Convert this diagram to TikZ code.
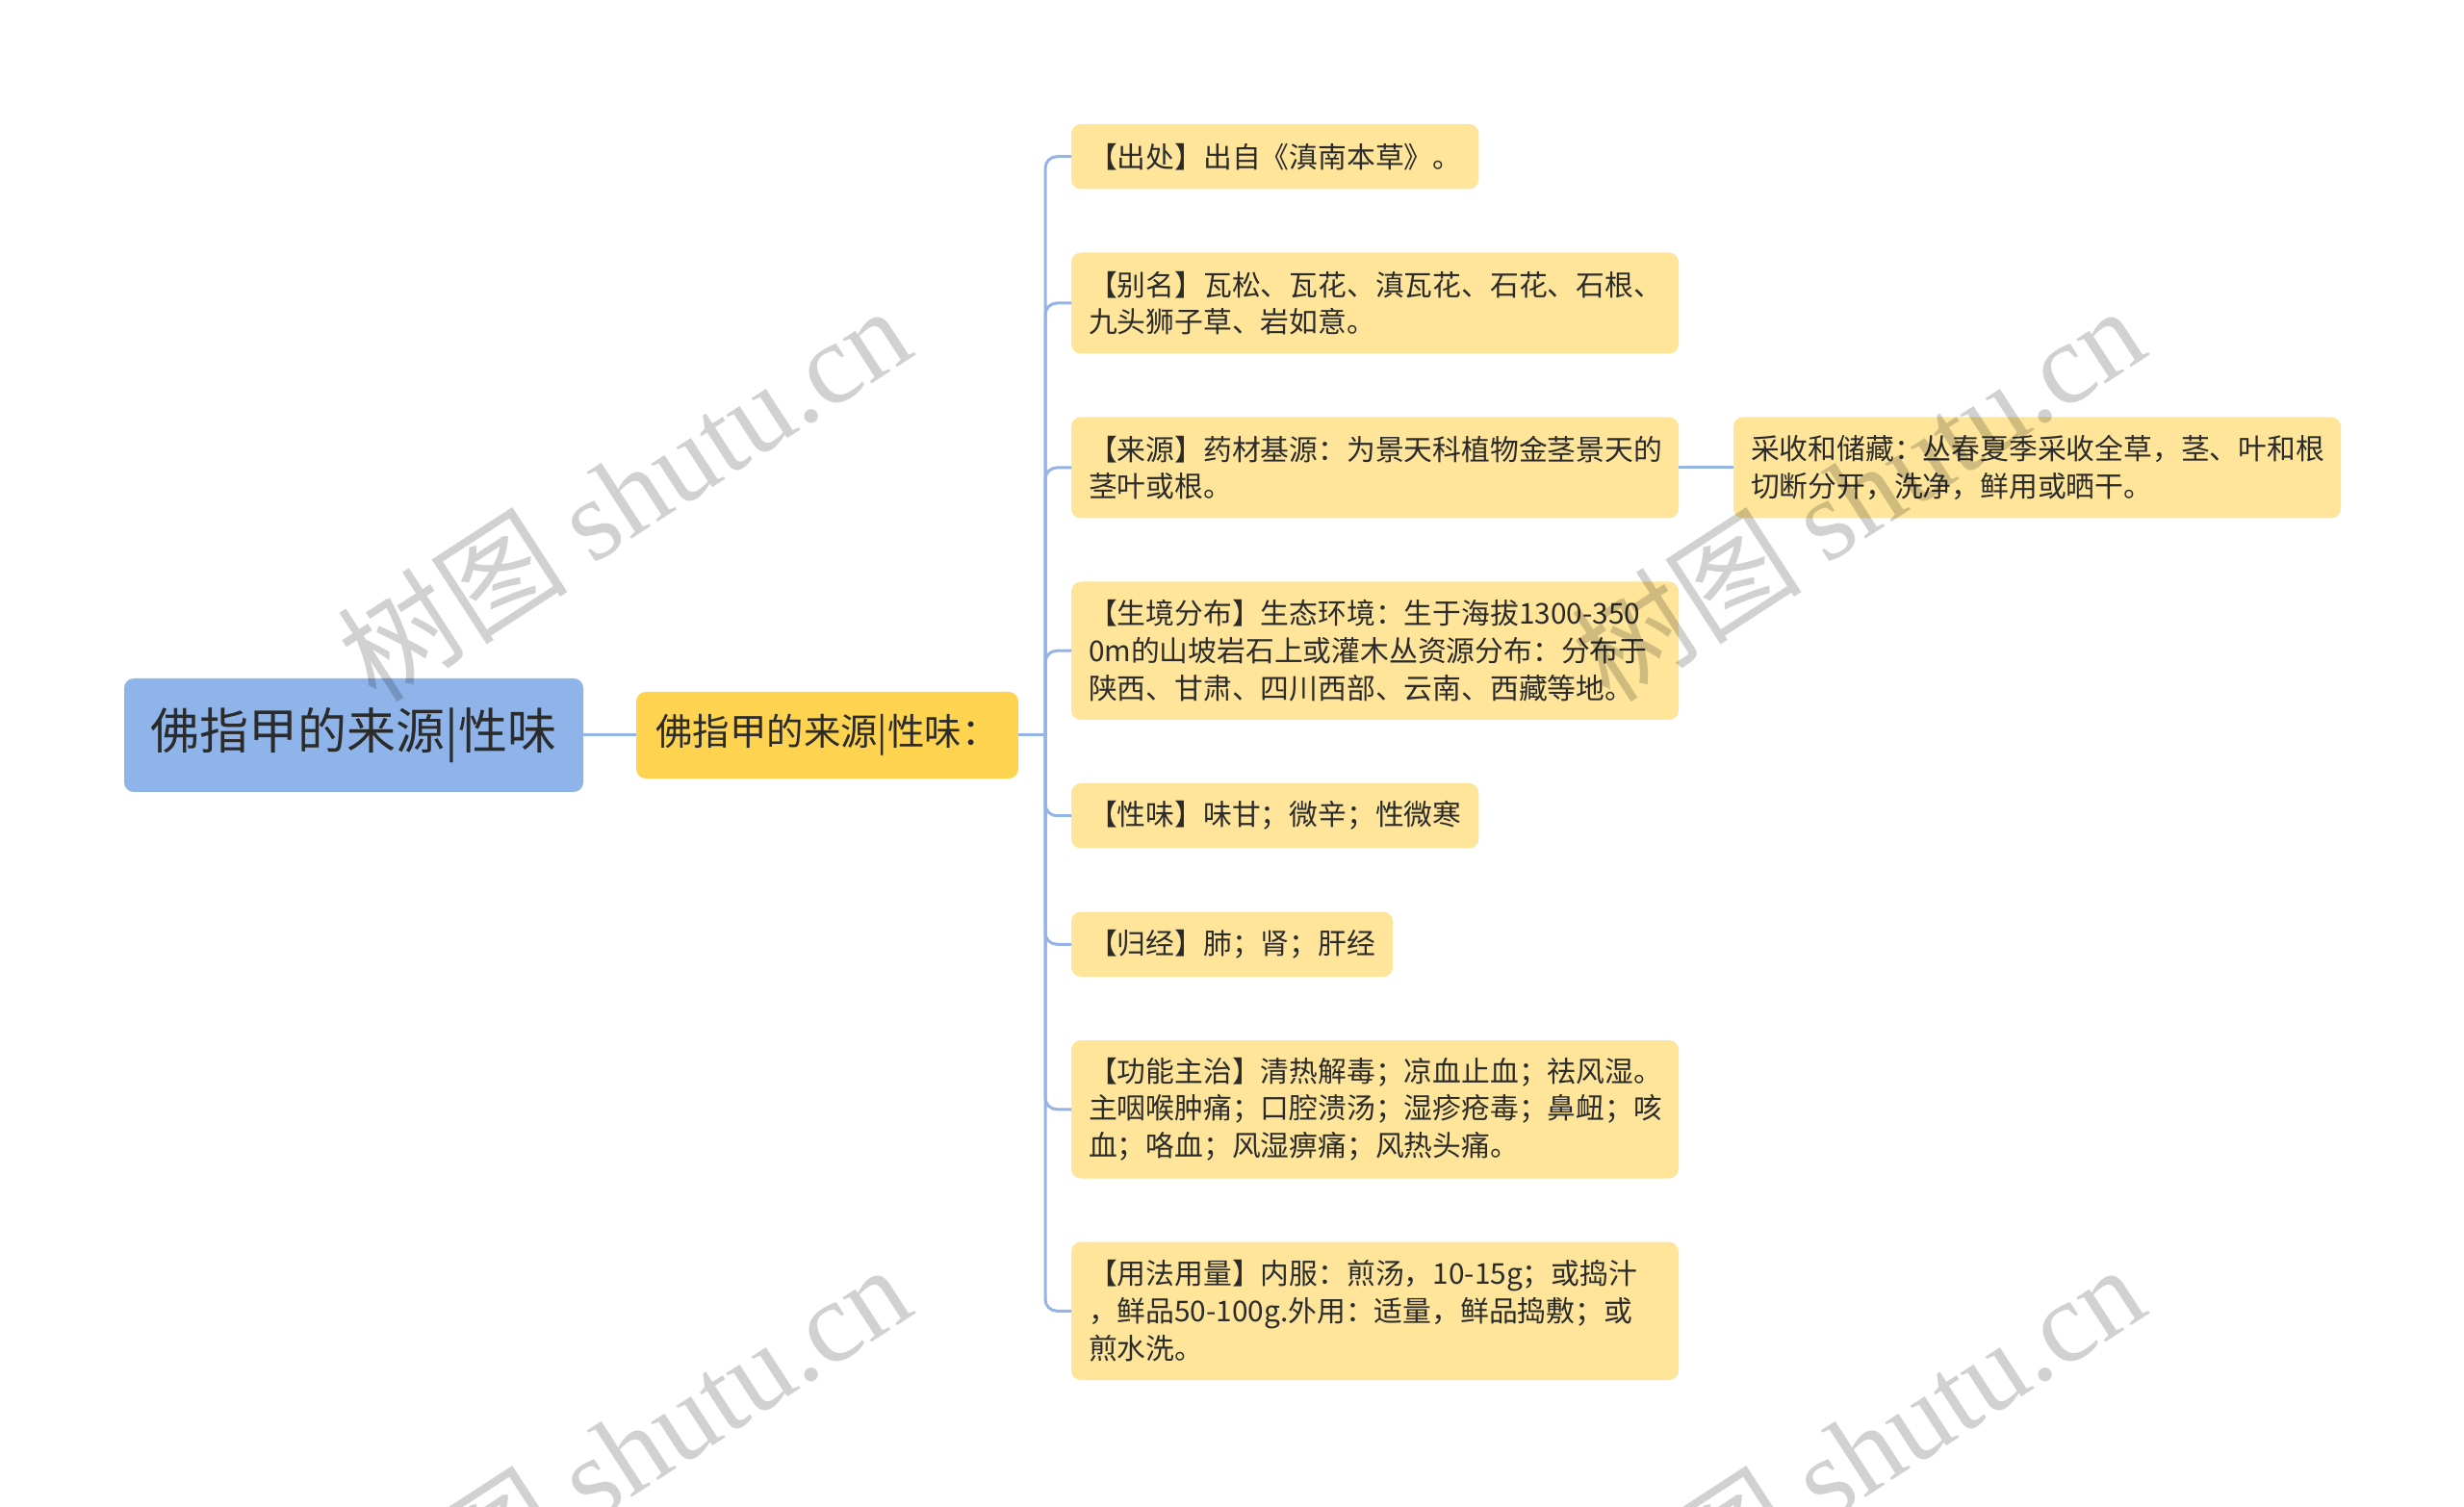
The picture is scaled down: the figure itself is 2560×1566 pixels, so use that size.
\documentclass[tikz,border=0pt]{standalone}
\usepackage{fontspec}
\setmainfont{Noto Sans CJK SC}
\newfontfamily\wmfont{Liberation Serif}
\usetikzlibrary{positioning}
\definecolor{rootblue}{HTML}{8FB4EA}
\definecolor{subyellow}{HTML}{FDD34F}
\definecolor{leafyellow}{HTML}{FEE59A}
\definecolor{linkblue}{HTML}{94B4E6}
\definecolor{inkgray}{HTML}{2B2B2B}

\begin{document}
\begin{tikzpicture}[x=0.5pt,y=-0.5pt,node distance=33pt,line width=1.5pt]
  \tikzstyle{every node}=[text=inkgray,outer sep=0pt]
  \tikzstyle{root}=[rounded corners=5pt,fill=rootblue,minimum width=238.5pt,minimum height=59pt,font=\fontsize{25.5pt}{30pt}\selectfont]
  \tikzstyle{topic}=[rounded corners=5pt,fill=subyellow,minimum width=198.5pt,minimum height=45pt,font=\fontsize{19.2pt}{23pt}\selectfont]
  \tikzstyle{leaf}=[rounded corners=5pt,fill=leafyellow,inner xsep=9pt,inner ysep=2pt,align=left,font=\fontsize{14.9pt}{19.3pt}\selectfont]
  \tikzstyle{wide}=[text width=297.5pt]
  \tikzstyle{h1}=[minimum height=33.75pt]
  \tikzstyle{h2}=[minimum height=52.5pt]
  \tikzstyle{h3}=[minimum height=71.75pt]
  \tikzstyle{link}=[draw=linkblue,rounded corners=6pt]
  \tikzstyle{wmark}=[text=black,text opacity=0.18,font=\fontsize{60pt}{64pt}\selectfont,rotate=33]

  \path[use as bounding box,fill=white] (0,0) rectangle (2560,1566);

  \node[root,anchor=west] (root) at (129,764) {佛指甲的来源|性味};
  \node[topic] (topic) [right=27.5pt of root] {佛指甲的来源|性味：};
  \coordinate[right=14pt of topic] (hub);

  \node[leaf,h1,anchor=north west] (l1) at (1113,129) {【出处】出自《滇南本草》。};
  \node[leaf,wide,h2,below=of l1.south west,anchor=north west] (l2) {【别名】瓦松、瓦花、滇瓦花、石花、石根、\\九头狮子草、岩如意。};
  \node[leaf,wide,h2,below=of l2.south west,anchor=north west] (l3) {【来源】药材基源：为景天科植物金茎景天的\\茎叶或根。};
  \node[leaf,wide,h3,below=of l3.south west,anchor=north west] (l4) {【生境分布】生态环境：生于海拔1300-350\\0m的山坡岩石上或灌木丛资源分布：分布于\\陕西、甘肃、四川西部、云南、西藏等地。};
  \node[leaf,h1,below=of l4.south west,anchor=north west] (l5) {【性味】味甘；微辛；性微寒};
  \node[leaf,h1,below=of l5.south west,anchor=north west] (l6) {【归经】肺；肾；肝经};
  \node[leaf,wide,h3,below=of l6.south west,anchor=north west] (l7) {【功能主治】清热解毒；凉血止血；祛风湿。\\主咽喉肿痛；口腔溃汤；湿疹疮毒；鼻衄；咳\\血；咯血；风湿痹痛；风热头痛。};
  \node[leaf,wide,h3,below=of l7.south west,anchor=north west] (l8) {【用法用量】内服：煎汤，10-15g；或捣汁\\，鲜品50-100g.外用：适量，鲜品捣敷；或\\煎水洗。};
  \node[leaf,wide,h2] (r1) [right=28.5pt of l3] {采收和储藏：丛春夏季采收全草，茎、叶和根\\切断分开，洗净，鲜用或晒干。};

  \draw[link] (root) -- (topic);
  \draw[link] (topic) -- (hub);
  \foreach \n in {l1,l2,l3,l4,l5,l6,l7,l8}
    \draw[link] (hub) |- (\n.west);
  \draw[link] (l3) -- (r1);

  \foreach \wx/\wy [count=\i] in {648/512,1930/512,648/1508,1930/1508}
    \node[wmark] (wm\i) at (\wx,\wy) {树图 {\wmfont shutu.cn}};
\end{tikzpicture}
\end{document}
